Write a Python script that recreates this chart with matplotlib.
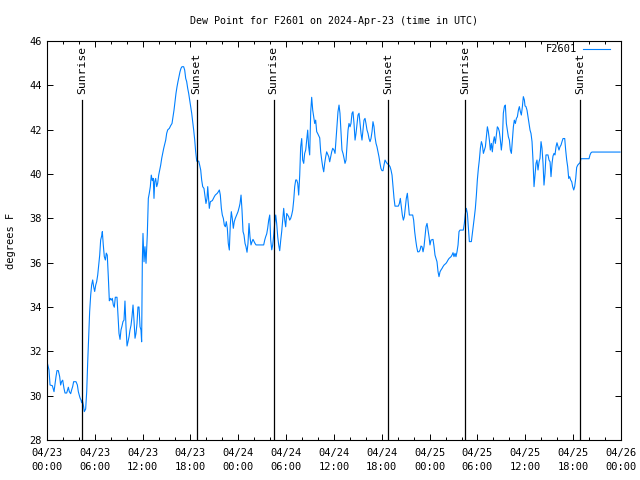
import datetime as dt
import matplotlib
matplotlib.use("Agg")
import matplotlib.pyplot as plt
import matplotlib.dates as mdates

# hours since 2024-04-23 00:00 UTC, dew point in degrees F
hours_day1 = [0.05, 0.25, 0.38, 0.67, 0.88, 1.13, 1.25, 1.42, 1.59, 1.71, 1.84, 1.97, 2.13, 2.26, 2.47,
              2.68, 2.80, 2.97, 3.09, 3.22, 3.34, 3.64, 3.81, 3.93, 4.14, 4.27, 4.35, 4.43, 4.56, 4.68,
              4.85, 4.98, 5.10, 5.23, 5.35, 5.48, 5.60, 5.73, 5.85, 5.98, 6.11, 6.23, 6.36, 6.48, 6.61,
              6.73, 6.86, 6.94, 7.06, 7.19, 7.32, 7.44, 7.56, 7.69, 7.82, 7.94, 8.07, 8.19, 8.32, 8.44,
              8.57, 8.78, 8.91, 9.03, 9.16, 9.28, 9.41, 9.53, 9.66, 9.78, 9.91, 10.04, 10.16, 10.29,
              10.41, 10.54, 10.66, 10.79, 10.91, 11.04, 11.16, 11.29, 11.41, 11.54, 11.67, 11.79,
              11.87, 11.96, 12.04, 12.17, 12.29, 12.42, 12.58, 12.71, 12.83, 12.96, 13.08, 13.21,
              13.33, 13.42, 13.51, 13.63, 13.76, 13.88, 14.01, 14.14, 14.26, 14.39, 14.51, 14.64,
              14.76, 14.89, 15.01, 15.14, 15.35, 15.51, 15.68, 15.81, 15.93, 16.06, 16.18, 16.31,
              16.43, 16.56, 16.68, 16.81, 16.93, 17.14, 17.27, 17.40, 17.52, 17.65, 17.77, 17.90,
              18.02, 18.15, 18.28, 18.40, 18.53, 18.65, 18.78, 19.03, 19.15, 19.28, 19.40, 19.53,
              19.69, 19.82, 19.94, 20.07, 20.16, 20.24, 20.36, 20.49, 20.74, 20.99, 21.11, 21.36,
              21.49, 21.62, 21.74, 21.87, 21.99, 22.12, 22.24, 22.37, 22.49, 22.62, 22.74, 22.87,
              22.99, 23.12, 23.24, 23.37, 23.49, 23.62, 23.79, 23.96]
dew_day1 = [31.46, 31.16, 30.48, 30.45, 30.18, 30.86, 31.13, 31.13, 30.86, 30.48, 30.64, 30.70, 30.33,
            30.12, 30.12, 30.38, 30.18, 30.09, 30.26, 30.41, 30.63, 30.63, 30.48, 30.18, 29.90, 29.80,
            29.68, 29.80, 29.58, 29.28, 29.40, 30.18, 31.46, 32.66, 33.79, 34.54, 34.99, 35.22, 34.92,
            34.70, 34.99, 35.14, 35.44, 35.89, 36.34, 37.02, 37.21, 37.40, 36.80, 36.27, 36.12, 36.43,
            36.34, 35.37, 34.28, 34.39, 34.31, 34.39, 34.09, 33.99, 34.44, 34.44, 33.56, 32.81, 32.54,
            32.96, 33.14, 33.34, 33.41, 34.27, 33.11, 32.24, 32.43, 32.66, 32.96, 33.18, 33.56, 34.09,
            33.41, 32.59, 32.81, 33.26, 34.00, 34.00, 33.11, 32.96, 32.43, 36.12, 37.32, 36.04, 36.72,
            35.97, 37.25, 38.90, 39.13, 39.43, 39.95, 39.70, 39.80, 38.90, 39.65, 39.80, 39.43, 39.58,
            39.95, 40.18, 40.40, 40.71, 40.93, 41.16, 41.34, 41.53, 41.83, 41.99, 42.06, 42.18, 42.28,
            42.58, 42.88, 43.26, 43.64, 43.94, 44.17, 44.39, 44.61, 44.77, 44.84, 44.84, 44.69, 44.31,
            44.17, 43.86, 43.64, 43.34, 43.04, 42.74, 42.36, 41.98, 41.53, 41.00, 40.58, 40.58, 40.40,
            40.18, 39.73, 39.43, 39.35, 38.98, 38.67, 38.90, 39.43, 39.05, 38.45, 38.75, 38.80, 38.98,
            39.05, 39.13, 39.20, 39.28, 39.05, 38.45, 38.15, 38.00, 37.70, 37.62, 37.85, 37.55, 36.87,
            36.57, 37.70, 38.30, 38.00, 37.55, 37.85, 38.00, 38.15, 38.30]

hours_day2 = [24.12, 24.21, 24.34, 24.46, 24.59, 24.71, 24.84, 24.96, 25.09, 25.21, 25.34, 25.46, 25.59,
              25.72, 25.84, 26.09, 26.22, 27.18, 27.31, 27.43, 27.56, 27.68, 27.81, 27.94, 28.06, 28.19,
              28.31, 28.44, 28.56, 28.69, 28.81, 28.94, 29.06, 29.19, 29.32, 29.44, 29.57, 29.69, 29.82,
              29.94, 30.07, 30.19, 30.32, 30.44, 30.57, 30.69, 30.82, 30.95, 31.07, 31.20, 31.32, 31.45,
              31.57, 31.70, 31.82, 31.95, 32.07, 32.20, 32.32, 32.45, 32.57, 32.70, 32.82, 32.95, 33.08,
              33.20, 33.33, 33.45, 33.58, 33.70, 33.83, 33.95, 34.21, 34.33, 34.46, 34.58, 34.71, 34.83,
              34.96, 35.08, 35.34, 35.46, 35.59, 35.71, 35.84, 36.00, 36.13, 36.25, 36.38, 36.50, 36.63,
              36.75, 36.88, 37.00, 37.13, 37.26, 37.38, 37.51, 37.63, 37.76, 37.88, 38.01, 38.13, 38.26,
              38.38, 38.51, 38.64, 38.76, 38.89, 39.01, 39.14, 39.26, 39.39, 39.51, 39.64, 39.76, 39.89,
              40.01, 40.14, 40.27, 40.39, 40.52, 40.64, 40.77, 40.89, 41.02, 41.14, 41.27, 41.39, 41.52,
              41.64, 41.77, 41.89, 42.02, 42.15, 42.27, 42.40, 42.52, 42.65, 42.90, 43.03, 43.15, 43.28,
              43.40, 43.53, 43.65, 44.07, 44.20, 44.32, 44.45, 44.57, 44.70, 44.82, 44.95, 45.07, 45.20,
              45.32, 45.45, 45.87, 45.99, 46.12, 46.25, 46.37, 46.50, 46.66, 46.79, 46.91, 47.04, 47.17,
              47.29, 47.42, 47.54, 47.67, 47.79, 47.92]
dew_day2 = [38.52, 38.67, 39.05, 38.37, 37.40, 37.25, 36.87, 36.72, 36.47, 36.87, 37.77, 37.17, 36.80,
            36.95, 37.05, 36.87, 36.80, 36.80, 37.02, 37.17, 37.30, 37.55, 37.92, 38.15, 37.02, 36.58,
            36.80, 37.25, 37.77, 38.15, 37.77, 37.17, 36.80, 36.54, 37.02, 37.40, 37.92, 38.45, 37.92,
            37.62, 38.22, 38.15, 38.07, 37.92, 38.00, 38.15, 38.37, 38.83, 39.43, 39.73, 39.73, 39.58,
            39.05, 39.95, 41.23, 41.60, 40.63, 40.48, 40.93, 41.08, 41.53, 41.98, 41.23, 40.86, 42.81,
            43.46, 42.88, 42.58, 42.28, 42.43, 41.91, 41.83, 41.63, 41.00, 40.63, 40.33, 40.10, 40.48,
            40.78, 41.00, 40.78, 40.55, 40.78, 41.00, 41.16, 41.08, 40.93, 41.53, 42.13, 42.81, 43.11,
            42.74, 41.83, 41.08, 40.93, 40.71, 40.48, 40.63, 41.31, 41.98, 42.28, 42.13, 42.28, 42.74,
            42.81, 42.28, 41.53, 41.83, 42.28, 42.66, 42.74, 42.28, 41.83, 41.53, 41.98, 42.43, 42.51,
            42.28, 41.98, 41.83, 41.60, 41.46, 41.60, 41.91, 42.36, 42.13, 41.68, 41.38, 41.23, 41.00,
            40.78, 40.48, 40.25, 40.15, 40.15, 40.40, 40.63, 40.55, 40.48, 40.40, 40.33, 40.18, 39.95,
            39.43, 38.90, 38.55, 38.55, 38.67, 38.90, 38.52, 38.15, 37.92, 38.07, 38.52, 38.90, 39.13,
            38.67, 38.15, 38.15, 37.92, 37.40, 37.02, 36.72, 36.49, 36.49, 36.57, 36.75, 36.72, 36.49,
            36.72, 37.17, 37.62, 37.77, 37.47, 37.17]

hours_day3 = [48.04, 48.17, 48.42, 48.54, 48.67, 48.92, 49.05, 49.17, 49.30, 49.42, 49.55, 49.67, 49.80,
              50.05, 50.18, 50.30, 50.43, 50.68, 50.80, 50.93, 51.05, 51.18, 51.30, 51.43, 51.56, 51.68,
              51.81, 52.22, 52.35, 52.48, 52.60, 52.73, 52.85, 52.98, 53.23, 53.36, 53.48, 53.61, 53.73,
              53.86, 53.98, 54.11, 54.23, 54.36, 54.49, 54.61, 54.74, 54.86, 54.99, 55.11, 55.24, 55.36,
              55.49, 55.61, 55.74, 55.86, 55.99, 56.11, 56.24, 56.37, 56.49, 56.62, 56.74, 56.87, 56.99,
              57.12, 57.24, 57.37, 57.49, 57.62, 57.75, 57.87, 58.00, 58.12, 58.25, 58.37, 58.50, 58.62,
              58.75, 58.88, 59.00, 59.13, 59.25, 59.38, 59.50, 59.63, 59.75, 59.88, 59.96, 60.08, 60.21,
              60.34, 60.46, 60.59, 60.71, 60.84, 60.96, 61.09, 61.21, 61.34, 61.46, 61.59, 61.72, 61.84,
              61.97, 62.09, 62.22, 62.34, 62.47, 62.59, 62.84, 62.97, 63.10, 63.22, 63.35, 63.47, 63.60,
              63.72, 63.85, 63.97, 64.10, 64.22, 64.35, 64.48, 64.60, 64.73, 64.94, 65.06, 65.19, 65.31,
              65.44, 65.56, 65.69, 65.82, 65.94, 66.07, 66.19, 66.32, 66.44, 66.57, 66.69, 66.86, 66.98,
              67.99, 68.11, 68.24, 68.36, 71.88]
dew_day3 = [36.80, 37.02, 37.05, 36.75, 36.34, 36.04, 35.59, 35.37, 35.59, 35.67, 35.74, 35.82, 35.89,
            35.97, 36.04, 36.12, 36.19, 36.27, 36.34, 36.45, 36.27, 36.42, 36.27, 36.49, 36.80, 37.40,
            37.47, 37.47, 37.77, 38.22, 38.45, 38.22, 37.62, 36.95, 36.95, 37.32, 37.70, 38.07, 38.45,
            39.05, 39.73, 40.25, 40.63, 41.16, 41.46, 41.31, 40.93, 41.08, 41.23, 41.68, 42.13, 41.91,
            41.53, 41.08, 41.38, 41.00, 41.46, 41.68, 41.38, 41.76, 42.13, 42.06, 41.91, 41.53, 41.08,
            41.53, 42.74, 43.04, 43.11, 42.28, 41.98, 41.68, 41.53, 41.08, 40.93, 41.53, 42.13, 42.43,
            42.28, 42.51, 42.58, 42.88, 43.04, 42.81, 42.66, 43.04, 43.49, 43.34, 43.07, 43.04, 42.88,
            42.58, 42.28, 41.98, 41.83, 41.46, 40.63, 39.43, 39.95, 40.48, 40.63, 40.18, 40.55, 40.71,
            41.46, 41.16, 40.48, 39.50, 40.03, 40.86, 40.86, 40.63, 40.55, 39.88, 40.48, 40.81, 40.93,
            40.86, 41.23, 41.41, 41.23, 41.08, 41.23, 41.31, 41.46, 41.60, 41.60, 41.08, 40.63, 40.33,
            39.80, 39.88, 39.73, 39.65, 39.43, 39.28, 39.43, 39.80, 40.30, 40.40, 40.45, 40.51, 40.69,
            40.69, 40.86, 40.96, 40.99, 40.99]

event_hours = [4.39, 18.78, 28.44, 42.81, 52.47, 66.90]
event_labels = ["Sunrise", "Sunset", "Sunrise", "Sunset", "Sunrise", "Sunset"]

start = dt.datetime(2024, 4, 23)
hours = hours_day1 + hours_day2 + hours_day3
dew = dew_day1 + dew_day2 + dew_day3
times = [start + dt.timedelta(hours=h) for h in hours]

plt.rcParams["font.family"] = "DejaVu Sans Mono"
plt.rcParams["font.size"] = 7.5

fig = plt.figure(figsize=(6.4, 4.8), dpi=100)
ax = fig.add_axes([47 / 640, 40 / 480, 574 / 640, 399 / 480])

ax.plot(times, dew, color="#0080ff", lw=0.8, label="F2601")

for h, lab in zip(event_hours, event_labels):
    t = start + dt.timedelta(hours=h)
    ax.plot([t, t], [28, 43.35], color="black", lw=0.9)
    ax.text(t, 43.62, lab, rotation=90, ha="center", va="bottom", fontsize=8.2)

ax.set_xlim(start, start + dt.timedelta(days=3))
ax.set_ylim(28, 46)
ax.set_yticks(range(28, 47, 2))
ax.xaxis.set_major_locator(mdates.HourLocator(byhour=[0, 6, 12, 18]))
ax.xaxis.set_minor_locator(mdates.HourLocator(interval=2))
ax.xaxis.set_major_formatter(mdates.DateFormatter("%m/%d\n%H:%M"))
ax.tick_params(which="both", direction="in", top=True, right=True, width=0.7)
ax.tick_params(which="major", length=4.5)
ax.tick_params(axis="x", which="major", pad=6)
ax.tick_params(which="minor", length=2.5)
for lbl in ax.get_xticklabels():
    lbl.set_linespacing(1.45)
for s in ax.spines.values():
    s.set_linewidth(0.8)

ax.set_ylabel("degrees F", labelpad=10)
ax.set_title("Dew Point for F2601 on 2024-Apr-23 (time in UTC)", fontsize=7.2, pad=12.5)
ax.legend(loc="upper right", frameon=False, markerfirst=False, handlelength=2.6,
          borderpad=0, borderaxespad=0, handletextpad=0.6,
          bbox_to_anchor=((610 - 47) / 574, (440 - 44.5) / 399))

fig.savefig("out.png", dpi=100)
